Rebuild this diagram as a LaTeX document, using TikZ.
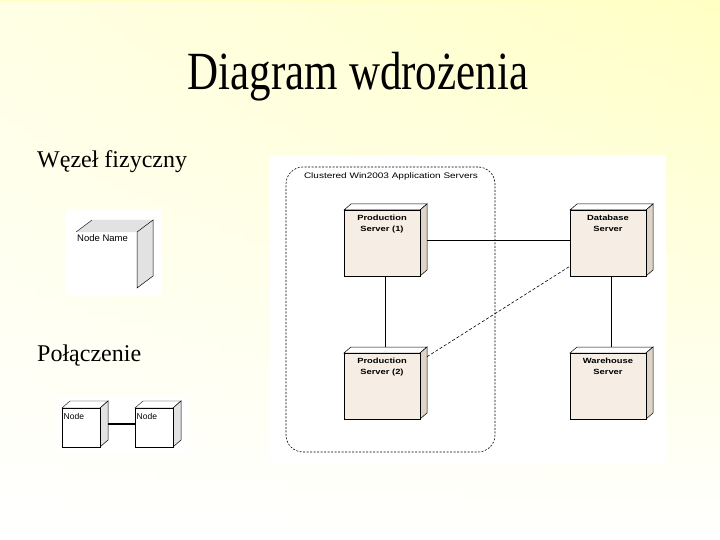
\documentclass[tikz,border=0pt]{standalone}
\usepackage{fontspec}
\usetikzlibrary{fadings}
\setmainfont{Liberation Serif}
\setsansfont{Liberation Sans}
\newfontfamily\umlfont[FakeStretch=1.25]{Liberation Sans}
\definecolor{slideyellow}{RGB}{255,255,196}
\definecolor{nodefront}{RGB}{246,238,228}
\definecolor{nodeside}{RGB}{222,212,200}
\definecolor{legendgray}{RGB}{226,226,226}
\tikzset{
  srvfront/.style={draw=black, fill=nodefront, line width=0.6pt},
  srvside/.style={draw=black, fill=nodeside, line width=0.5pt},
  srvtop/.style={draw=black, fill=white, line width=0.5pt},
  srvbox/.style={rectangle, minimum width=83pt, minimum height=72pt, inner sep=0pt, outer sep=0pt},
  srvtext/.style={font=\umlfont\bfseries\fontsize{7.5}{11}\selectfont, align=center, anchor=north, inner sep=0pt},
  link/.style={line width=0.6pt},
  linkdash/.style={link, dash pattern=on 3pt off 2pt},
  cluster/.style={draw, line width=0.6pt, dash pattern=on 2pt off 1.5pt, rounded corners=17pt,
    minimum width=209pt, minimum height=285pt, inner sep=0pt},
  clustertext/.style={font=\umlfont\fontsize{8}{10}\selectfont, anchor=base, inner sep=0pt},
  heading/.style={font=\fontsize{24}{28}\selectfont, anchor=base west, inner sep=0pt},
  legtop/.style={draw=black, fill=white, line width=0.4pt},
  legside/.style={draw=black, fill=legendgray, line width=0.5pt},
  legfront/.style={draw=black, fill=white, line width=0.5pt},
  legbox/.style={rectangle, minimum width=46pt, minimum height=46pt, inner sep=0pt, outer sep=0pt},
  legtext/.style={font=\sffamily\fontsize{8.5}{10}\selectfont, anchor=north west, inner sep=0pt},
}
\begin{document}
\begin{tikzpicture}[x=1pt, y=-1pt]
    % tlo slajdu
    \useasboundingbox (0,0) rectangle (720,540);
    \shade[top color=slideyellow, bottom color=white] (0,0) rectangle (720,540);
    \fill[white, path fading=east, fill opacity=0.55] (0,0) rectangle (720,540);
    \node[anchor=base, inner sep=0pt] (title) at (358,90) {\scalebox{1}[1.25]{\fontsize{43}{50}\selectfont Diagram wdrożenia}};
    \node[heading] (wezel) at (37,168) {Węzeł fizyczny};
    \node[heading] (polaczenie) at (37,361) {Połączenie};

    % legenda: wezel
    \fill[white] (66,209) rectangle (161,296);
    \fill[legendgray] (76,232) -- (92,220) -- (153,220) -- (137,232) -- cycle;
    \draw[line width=0.4pt] (76,232) -- (92,220);
    \draw[legside] (137,232) -- (153,220) -- (153,276) -- (137,288) -- cycle;
    \node[legtext, font=\sffamily\fontsize{9.5}{11}\selectfont] (nodename) at (77,234) {Node Name};

    % legenda: polaczenie
    \fill[white] (57,397) rectangle (189,453);
    \foreach \n/\x in {conna/62, connb/135} {
        \draw[legtop] (\x,408) -- ++(8,-7) -- ++(38,0) -- ++(-8,7) -- cycle;
        \draw[legside] (\x+38,408) -- ++(8,-7) -- ++(0,39) -- ++(-8,7) -- cycle;
        \draw[legfront] (\x,408) rectangle ++(38,39);
        \node[legbox] (\n) at (\x+23,424) {};
        \node[legtext] (\n-txt) at (\x+1.5,413) {Node};
    }
    \draw[line width=2.5pt] (conna) -- (connb);

    % diagram wdrozenia
    \fill[white] (270,155) rectangle (666,463);
    \node[cluster] (cluster) at (390.5,309.5) {};
    \node[clustertext] (cluster-txt) at (391,179) {Clustered Win2003 Application Servers};
    \foreach \n/\x/\y/\txt in {ps1/344/210/{Production\\Server (1)}, db/570/210/{Database\\Server},
                               ps2/344/353/{Production\\Server (2)}, wh/570/353/{Warehouse\\Server}} {
        \draw[srvtop] (\x,\y) -- ++(7,-6) -- ++(76,0) -- ++(-7,6) -- cycle;
        \draw[srvside] (\x+76,\y) -- ++(7,-6) -- ++(0,66) -- ++(-7,6) -- cycle;
        \draw[srvfront] (\x,\y) rectangle ++(76,66);
        \node[srvbox] (\n) at (\x+41.5,\y+30) {};
        \node[srvtext] (\n-txt) at (\x+38,\y+4.5) {\txt};
    }
    \draw[link] (ps1) -- (db);
    \draw[link] (ps1) -- (ps2);
    \draw[link] (db) -- (wh);
    \draw[linkdash] (ps2) -- (db);
\end{tikzpicture}
\end{document}
